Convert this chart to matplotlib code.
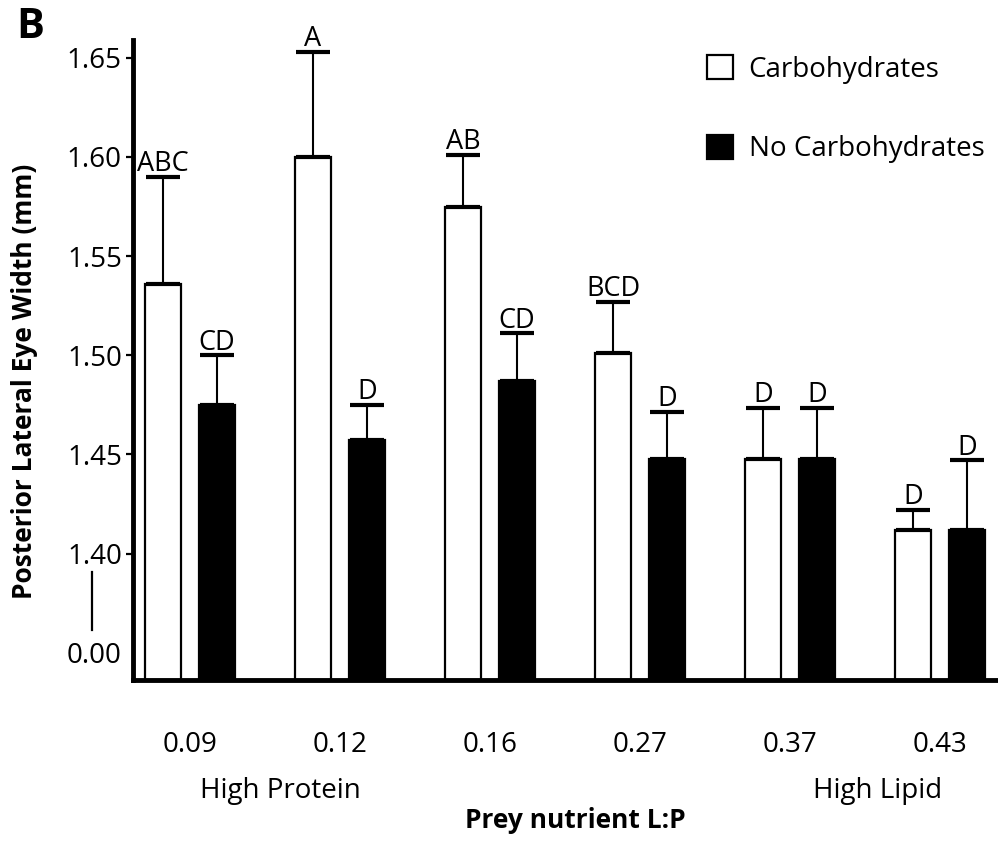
import matplotlib
matplotlib.use('Agg')
import matplotlib.pyplot as plt
import matplotlib.transforms as mtransforms

plt.rcParams['font.family'] = ['Open Sans', 'DejaVu Sans']

# data (posterior lateral eye width, mm)
ratios = ['0.09', '0.12', '0.16', '0.27', '0.37', '0.43']
carb_mean = [1.536, 1.600, 1.575, 1.501, 1.4475, 1.412]
carb_err = [0.054, 0.053, 0.026, 0.026, 0.026, 0.010]
nocarb_mean = [1.475, 1.457, 1.487, 1.4475, 1.4475, 1.412]
nocarb_err = [0.025, 0.018, 0.024, 0.024, 0.026, 0.035]
carb_letters = ['ABC', 'A', 'AB', 'BCD', 'D', 'D']
nocarb_letters = ['CD', 'D', 'CD', 'D', 'D', 'D']
ytick_vals = [1.35, 1.40, 1.45, 1.50, 1.55, 1.60, 1.65]
ytick_labels = ['0.00', '1.40', '1.45', '1.50', '1.55', '1.60', '1.65']

ymin, ymax = 1.3362, 1.659

fig = plt.figure(figsize=(9.98, 8.42), dpi=100)
ax = fig.add_axes([0.1333, 0.1924, 0.8667, 0.7601])

x = list(range(len(ratios)))
off = 0.18
w = 0.24
xc = [i - off for i in x]
xn = [i + off for i in x]

b1 = ax.bar(xc, [m - ymin for m in carb_mean], w, bottom=ymin, color='white',
            edgecolor='black', linewidth=1.6, label='Carbohydrates')
b2 = ax.bar(xn, [m - ymin for m in nocarb_mean], w, bottom=ymin, color='black',
            edgecolor='black', linewidth=1.6, label='No Carbohydrates')

ax.errorbar(xc, carb_mean, yerr=[[0] * 6, carb_err], fmt='none', ecolor='black',
            elinewidth=1.5, capsize=12, capthick=3)
ax.errorbar(xn, nocarb_mean, yerr=[[0] * 6, nocarb_err], fmt='none', ecolor='black',
            elinewidth=1.5, capsize=12, capthick=3)

for i in x:
    ax.annotate(carb_letters[i], (xc[i], carb_mean[i] + carb_err[i]), xytext=(0, 4),
                textcoords='offset points', ha='center', va='baseline', fontsize=19.5)
    ax.annotate(nocarb_letters[i], (xn[i], nocarb_mean[i] + nocarb_err[i]), xytext=(0, 4),
                textcoords='offset points', ha='center', va='baseline', fontsize=19.5)

ax.set_xlim(-0.38, 5.387)
ax.set_ylim(ymin, ymax)
ax.set_xticks(x)
ax.set_xticklabels(ratios, fontsize=20)
ax.set_yticks(ytick_vals)
ax.set_yticklabels(ytick_labels, fontsize=20)
ax.tick_params(axis='x', length=0, pad=37)
ax.tick_params(axis='y', length=5, width=1.6, pad=3)
ax.yaxis.get_major_ticks()[0].tick1line.set_visible(False)

for s in ['top', 'right']:
    ax.spines[s].set_visible(False)
ax.spines['left'].set_linewidth(3.5)
ax.spines['bottom'].set_linewidth(3.5)

# axis break marker
trans = mtransforms.blended_transform_factory(ax.transAxes, ax.transData)
ax.plot([-0.0474, -0.0474], [1.3905, 1.3613], color='black', lw=1.6,
        transform=trans, clip_on=False)

xtrans = ax.get_xaxis_transform()
ax.text(0.6, -0.173, 'High Protein', transform=xtrans, ha='center', va='center', fontsize=20)
ax.text(4.587, -0.173, 'High Lipid', transform=xtrans, ha='center', va='center', fontsize=20)

fig.text(575 / 998, 1 - 820 / 842, 'Prey nutrient L:P', ha='center', va='center',
         fontsize=19, fontweight='bold')
fig.text(25 / 998, 1 - 381 / 842, 'Posterior Lateral Eye Width (mm)', ha='center',
         va='center', rotation=90, fontsize=19, fontweight='bold')
fig.text(30 / 998, 1 - 28 / 842, 'B', ha='center', va='center', fontsize=30,
         fontweight='bold')

ax.legend(handles=[b1, b2], frameon=False, loc='upper left',
          bbox_to_anchor=(707 / 998, 1 - 55 / 842), bbox_transform=fig.transFigure,
          fontsize=20, handlelength=0.95, handleheight=0.95, labelspacing=1.85,
          handletextpad=0.55, borderaxespad=0, borderpad=0)

fig.savefig('out.png', dpi=100)
